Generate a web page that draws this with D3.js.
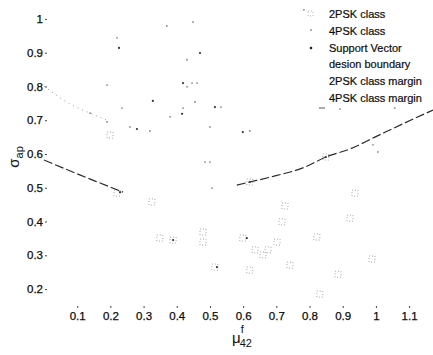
<!DOCTYPE html>
<head>
<style>
  body { margin: 0; background: #fff; }
  text { font-family: "Liberation Sans", Arial, sans-serif; fill: #111; }
</style>
</head>
<body>
<svg width="433" height="355"></svg>
<script src="https://d3js.org/d3.v7.min.js"></script>
<script>

// values: [mu42, sigma_ap]
var psk2 = [[0.220,0.484],[0.325,0.458],[0.349,0.351],[0.389,0.345],[0.479,0.369],[0.479,0.339],
  [0.515,0.265],[0.599,0.351],[0.620,0.256],[0.636,0.316],[0.660,0.301],[0.675,0.316],
  [0.702,0.339],[0.717,0.399],[0.726,0.446],[0.741,0.271],[0.822,0.354],[0.831,0.185],
  [0.886,0.244],[0.922,0.410],[0.937,0.484],[0.988,0.289],[0.199,0.656],[0.620,0.517],[0.849,0.591]];
var psk4 = [[0.370,0.979],[0.449,0.991],[0.783,1.027],[0.220,0.944],[0.431,0.879],[0.190,0.804],
  [0.235,0.736],[0.139,0.721],[0.190,0.695],[0.259,0.680],[0.319,0.668],[0.380,0.710],
  [0.455,0.754],[0.419,0.736],[0.533,0.739],[0.500,0.680],[0.446,0.810],[0.461,0.810],
  [0.431,0.799],[0.620,0.668],[0.485,0.576],[0.500,0.576],[0.506,0.499],[0.991,0.627],
  [1.006,0.606],[0.892,0.733],[1.057,0.736]];
var supportVectors = [[0.226,0.914],[0.328,0.757],[0.470,0.899],[0.419,0.810],[0.280,0.674],
  [0.515,0.739],[0.416,0.719],[0.599,0.665],[0.229,0.487],[0.389,0.345],[0.521,0.265],
  [0.611,0.351],[0.620,0.517],[0.849,0.591]];
// decision boundary, two visible pieces
var boundaryLeft = [[0,0.582],[0.108,0.538],[0.169,0.514],[0.238,0.487]];
var boundaryRight = [[0.581,0.508],[0.620,0.517],[0.696,0.535],[0.786,0.561],[0.849,0.591],
  [0.922,0.615],[0.997,0.650],[1.087,0.692],[1.172,0.730]];
var margin4 = [[0,0.801],[0.084,0.745],[0.139,0.721],[0.190,0.700]];
var xTicks = [0.1,0.2,0.3,0.4,0.5,0.6,0.7,0.8,0.9,1,1.1];
var yTicks = [0.2,0.3,0.4,0.5,0.6,0.7,0.8,0.9,1];
var legendLabels = ["2PSK class","4PSK class","Support Vector","desion boundary","2PSK class margin","4PSK class margin"];

var svg = d3.select("svg");
var x = d3.scaleLinear().domain([0, 1.172]).range([44, 433]);
var y = d3.scaleLinear().domain([0.138, 1.056]).range([310, 0]);
var line = d3.line().x(d => x(d[0])).y(d => y(d[1])).curve(d3.curveMonotoneX);

// axes: only tiny tick marks and labels, no domain line
var xAxis = svg.append("g").attr("transform", "translate(0,308)")
  .call(d3.axisTop(x).tickValues(xTicks).tickSize(2).tickFormat(d3.format("")));
xAxis.select(".domain").remove();
xAxis.selectAll("line").attr("stroke", "#444");
xAxis.selectAll("text").attr("transform", "translate(0,17)").attr("font-size", 11.5)
  .attr("fill", "#000").attr("stroke", "#000").attr("stroke-width", 0.25);

var yAxis = svg.append("g").attr("transform", "translate(47,0)")
  .call(d3.axisLeft(y).tickValues(yTicks).tickSize(2).tickPadding(2).tickFormat(d3.format("")));
yAxis.select(".domain").remove();
yAxis.selectAll("line").attr("stroke", "#444");
yAxis.selectAll("text").attr("font-size", 11.5)
  .attr("fill", "#000").attr("stroke", "#000").attr("stroke-width", 0.25);

// margin (faint)
svg.append("path").datum(margin4).attr("d", line)
  .attr("fill", "none").attr("stroke", "#999").attr("stroke-width", 1).attr("stroke-dasharray", "1,4");

// decision boundary
[boundaryLeft, boundaryRight].forEach(b => {
  svg.append("path").datum(b).attr("d", line)
    .attr("fill", "none").attr("stroke", "#2a2a2a").attr("stroke-width", 1.2).attr("stroke-dasharray", "9,3");
});

// 2PSK squares
svg.append("g").selectAll("rect").data(psk2).enter().append("rect")
  .attr("x", d => x(d[0]) - 3).attr("y", d => y(d[1]) - 3)
  .attr("width", 6).attr("height", 6)
  .attr("fill", "none").attr("stroke", "#9a9a9a").attr("stroke-width", 0.9).attr("stroke-dasharray", "1,2");

// 4PSK points
svg.append("g").selectAll("circle").data(psk4).enter().append("circle")
  .attr("cx", d => x(d[0])).attr("cy", d => y(d[1])).attr("r", 0.9).attr("fill", "#888");

// support vectors
svg.append("g").selectAll("circle").data(supportVectors).enter().append("circle")
  .attr("cx", d => x(d[0])).attr("cy", d => y(d[1])).attr("r", 1.1).attr("fill", "#333");

// legend
var lg = svg.append("g").attr("transform", "translate(329,0)");
lg.selectAll("text").data(legendLabels).enter().append("text")
  .attr("x", 0).attr("y", (d, i) => 18 + i * 16.8)
  .attr("font-size", 11).attr("fill", "#000").attr("stroke", "#000").attr("stroke-width", 0.2)
  .text(d => d);
lg.append("rect").attr("x", -21).attr("y", 11).attr("width", 5).attr("height", 5)
  .attr("fill", "none").attr("stroke", "#aaa").attr("stroke-width", 0.9).attr("stroke-dasharray", "1,2");
lg.append("circle").attr("cx", -18).attr("cy", 30).attr("r", 0.9).attr("fill", "#888");
lg.append("circle").attr("cx", -18).attr("cy", 48).attr("r", 1.3).attr("fill", "#222");
lg.append("line").attr("x1", -10).attr("x2", -4).attr("y1", 108).attr("y2", 108)
  .attr("stroke", "#555").attr("stroke-width", 1);

// axis labels
var yl = svg.append("text").attr("transform", "translate(19,157) rotate(-90)")
  .attr("text-anchor", "middle").attr("font-size", 15);
yl.append("tspan").text("σ");
yl.append("tspan").attr("font-size", 11).attr("dy", 4).text("ap");

var xl = svg.append("text").attr("x", 232).attr("y", 343).attr("font-size", 15);
xl.append("tspan").text("μ");
xl.append("tspan").attr("font-size", 11).attr("dx", 0).attr("dy", -10).text("f");
xl.append("tspan").attr("font-size", 11).attr("dx", -4).attr("dy", 14).text("42");

</script>
</body>
